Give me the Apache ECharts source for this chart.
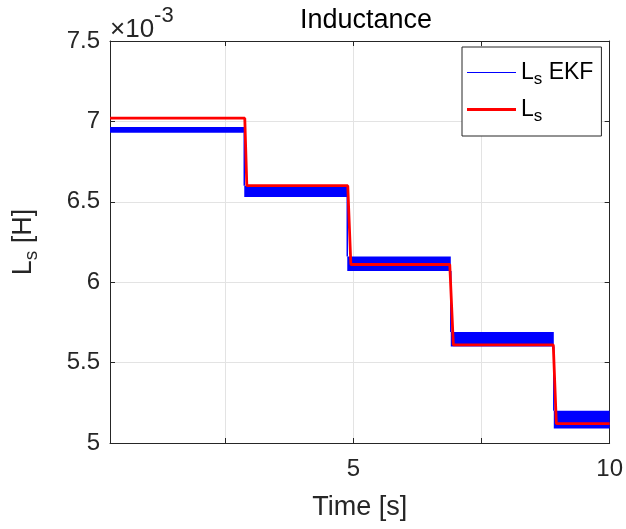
<!DOCTYPE html>
<html>
<head>
<meta charset="utf-8">
<script src="https://cdn.jsdelivr.net/npm/echarts@6/dist/echarts.min.js"></script>
<style>
  html, body { margin: 0; padding: 0; background: #fff; }
  #chart { width: 626px; height: 529px; }
</style>
</head>
<body>
<div id="chart"></div>
<script>
// Inductance values are given in units of 1e-3 H (axis multiplier shown top-left).

// Reference inductance L_s: step profile (time [s], value)
const refTime  = [0.25, 2.88, 2.92, 4.89, 4.95, 6.88, 6.95, 8.90, 8.96, 10];
const refValue = [7.02, 7.02, 6.60, 6.60, 6.11, 6.11, 5.61, 5.61, 5.12, 5.12];

// EKF estimate: per-step noise envelope (start/end time, lower/upper bound)
const ekfStart = [0.25, 2.87, 4.88, 6.90, 8.91];
const ekfEnd   = [2.87, 4.88, 6.90, 8.91, 10];
const ekfLow   = [6.93, 6.53, 6.07, 5.60, 5.09];
const ekfHigh  = [6.965, 6.60, 6.16, 5.69, 5.20];

// Axes
const xRange = [0.25, 10];
const xTicks = [2.5, 5, 7.5, 10];
const xTickLabels = [5, 10];
const yRange = [5, 7.5];
const yStep = 0.5;

const AXIS_COLOR = '#262626';
const GRID_COLOR = '#e3e3e3';
const FONT = 'Liberation Sans, Arial, Helvetica, sans-serif';

const chart = echarts.init(document.getElementById('chart'), null, { renderer: 'canvas' });

const refData = refTime.map((t, i) => [t, refValue[i]]);
const ekfData = ekfStart.map((t, i) => [t, ekfEnd[i], ekfLow[i], ekfHigh[i], i]);

const subRich = {
  m: { fontSize: 27, fontFamily: FONT, color: AXIS_COLOR },
  s: { fontSize: 19, fontFamily: FONT, color: AXIS_COLOR, padding: [16, 0, 0, 0] }
};
const legRich = {
  m: { fontSize: 23, fontFamily: FONT, color: '#000' },
  s: { fontSize: 17, fontFamily: FONT, color: '#000', padding: [14, 0, 0, 0] }
};

const frameAxis = {
  axisLine: { show: true, onZero: false, lineStyle: { color: AXIS_COLOR, width: 1 } },
  axisTick: { show: true, inside: true, length: 5, lineStyle: { color: AXIS_COLOR } },
  axisLabel: { show: false },
  splitLine: { show: false }
};

chart.setOption({
  animation: false,
  backgroundColor: '#fff',
  title: [{
    text: 'Inductance',
    left: 361,
    textAlign: 'center',
    top: 2,
    textStyle: { fontSize: 27, fontWeight: 'normal', color: '#000', fontFamily: FONT }
  }, {
    // axis multiplier
    text: '{a|×10}{b|-3}',
    left: 110,
    top: 0,
    padding: 0,
    textStyle: {
      fontWeight: 'normal',
      rich: {
        a: { fontSize: 26, fontWeight: 'normal', fontFamily: FONT, color: AXIS_COLOR, padding: [17, 0, 0, 0] },
        b: { fontSize: 22, fontWeight: 'normal', fontFamily: FONT, color: AXIS_COLOR, padding: [0, 0, 12, 0] }
      }
    }
  }],
  grid: { left: 110, right: 14, top: 41, bottom: 86, containLabel: false },
  legend: {
    orient: 'vertical',
    left: 462,
    top: 47,
    padding: [14, 8, 11, 5],
    itemGap: 10,
    itemWidth: 49,
    itemHeight: 14,
    itemTextGap: 4,
    backgroundColor: '#fff',
    borderColor: AXIS_COLOR,
    borderWidth: 1,
    borderRadius: 0,
    symbolKeepAspect: true,
    data: [
      { name: 'Ls EKF', icon: 'path://M0 0H49V1H0Z' },
      { name: 'Ls', icon: 'path://M0 0H49V3H0Z' }
    ],
    formatter: name => name === 'Ls EKF' ? '{m|L}{s|s}{m| EKF}' : '{m|L}{s|s}',
    textStyle: { rich: legRich }
  },
  xAxis: [{
    type: 'value',
    min: xRange[0],
    max: xRange[1],
    name: 'Time [s]',
    nameLocation: 'middle',
    nameGap: 51,
    nameTextStyle: { fontSize: 27, color: AXIS_COLOR, fontFamily: FONT },
    axisLine: { show: true, onZero: false, lineStyle: { color: AXIS_COLOR, width: 1 } },
    axisTick: { show: true, inside: true, length: 5, customValues: xTicks, lineStyle: { color: AXIS_COLOR } },
    axisLabel: {
      show: true, customValues: xTickLabels, margin: 14,
      fontSize: 24, color: AXIS_COLOR, fontFamily: FONT,
      formatter: v => String(v)
    },
    splitLine: { show: true, lineStyle: { color: GRID_COLOR, width: 1 } }
  }, Object.assign({
    type: 'value', position: 'top', min: xRange[0], max: xRange[1]
  }, frameAxis, {
    axisTick: { show: true, inside: true, length: 5, customValues: xTicks, lineStyle: { color: AXIS_COLOR } }
  })],
  yAxis: [{
    type: 'value',
    min: yRange[0],
    max: yRange[1],
    interval: yStep,
    name: '{m|L}{s|s}{m| [H]}',
    nameLocation: 'middle',
    nameGap: 69,
    nameRotate: 90,
    nameTextStyle: { rich: subRich },
    axisLine: { show: true, onZero: false, lineStyle: { color: AXIS_COLOR, width: 1 } },
    axisTick: { show: true, inside: true, length: 5, lineStyle: { color: AXIS_COLOR } },
    axisLabel: { show: true, margin: 10, fontSize: 24, color: AXIS_COLOR, fontFamily: FONT },
    splitLine: { show: true, lineStyle: { color: GRID_COLOR, width: 1 } }
  }, Object.assign({
    type: 'value', position: 'right', min: yRange[0], max: yRange[1], interval: yStep
  }, frameAxis)],
  series: [{
    name: 'Ls EKF',
    type: 'custom',
    xAxisIndex: 0,
    yAxisIndex: 0,
    itemStyle: { color: '#0000ff' },
    encode: { x: [0, 1], y: [2, 3] },
    data: ekfData,
    z: 2,
    renderItem: (params, api) => {
      const t0 = api.value(0), t1 = api.value(1);
      const lo = api.value(2), hi = api.value(3), idx = api.value(4);
      const a = api.coord([t0, hi]);
      const b = api.coord([t1, lo]);
      const children = [{
        type: 'rect',
        shape: { x: a[0], y: a[1], width: b[0] - a[0], height: b[1] - a[1] },
        style: { fill: '#0000ff' }
      }];
      if (idx > 0) {
        const p = api.coord([t0, ekfLow[idx - 1]]);
        children.push({
          type: 'line',
          shape: { x1: p[0], y1: p[1], x2: a[0], y2: a[1] },
          style: { stroke: '#0000ff', lineWidth: 1.5 }
        });
      }
      return { type: 'group', children };
    }
  }, {
    name: 'Ls',
    type: 'line',
    xAxisIndex: 0,
    yAxisIndex: 0,
    data: refData,
    symbol: 'none',
    z: 3,
    lineStyle: { color: '#ff0000', width: 2.8 },
    itemStyle: { color: '#ff0000' }
  }]
});
</script>
</body>
</html>
